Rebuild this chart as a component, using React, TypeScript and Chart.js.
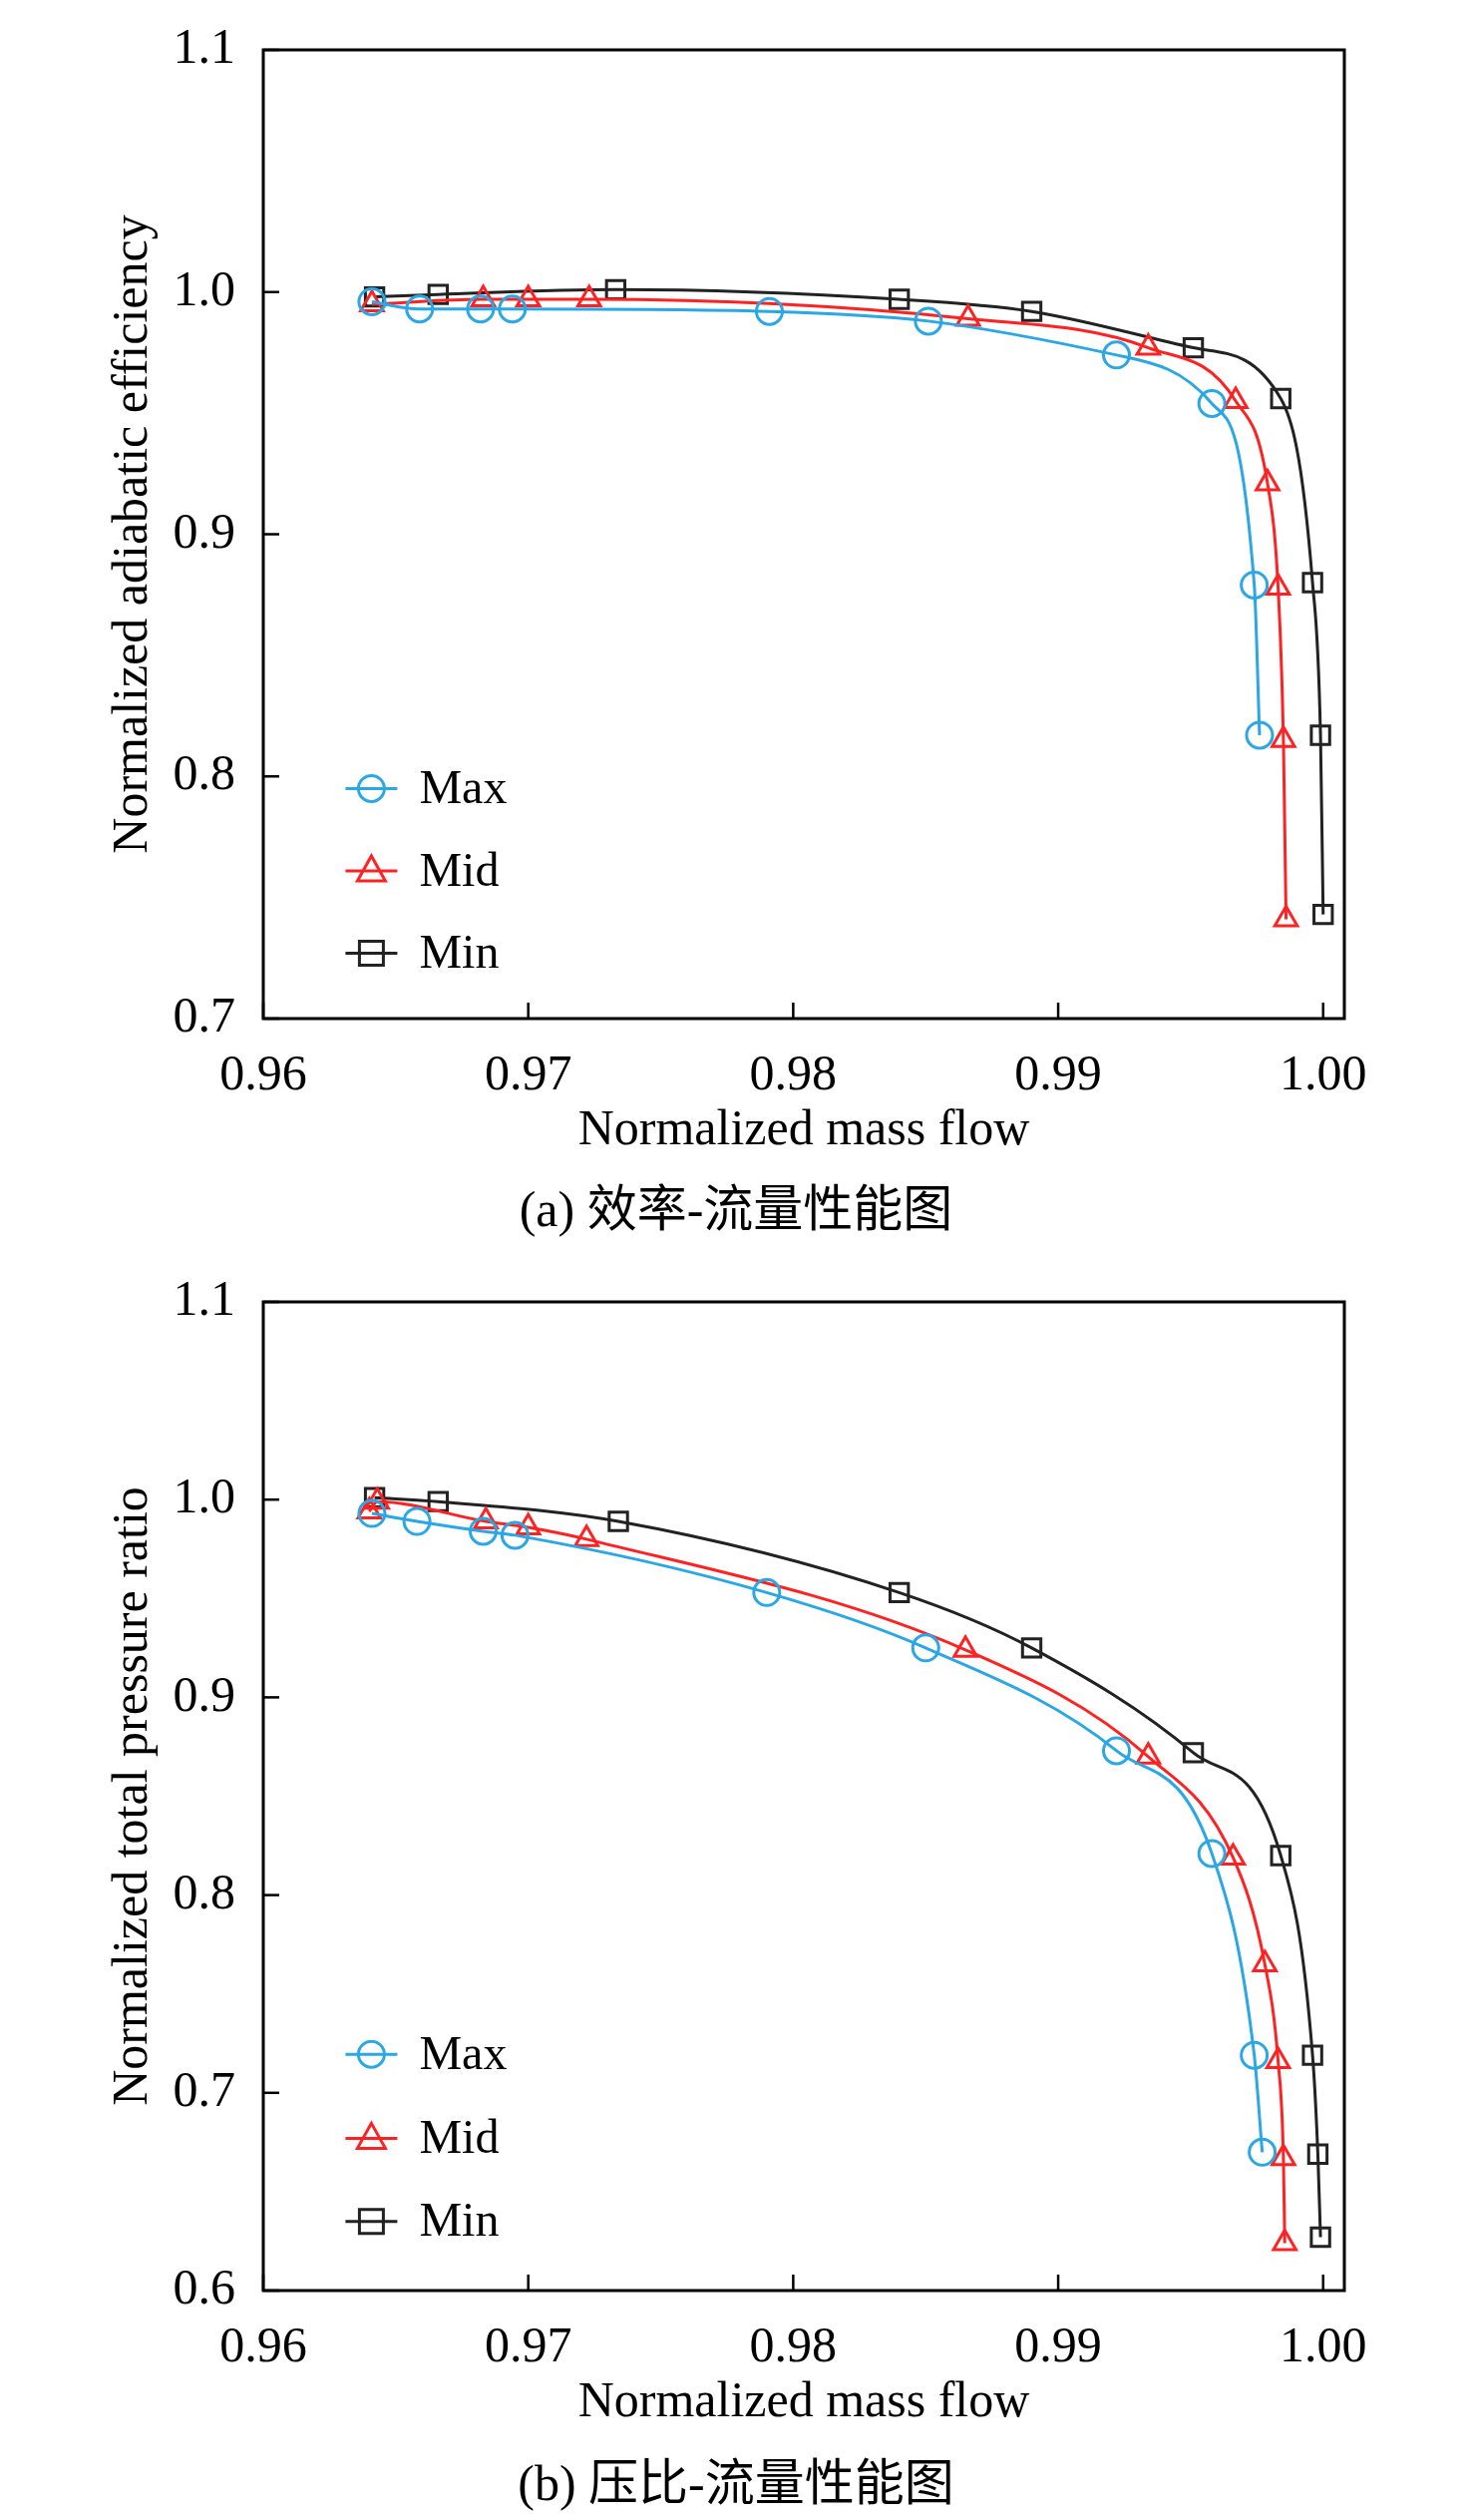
import React, { useEffect, useRef } from "react";
import { Chart, registerables } from "chart.js";
Chart.register(...registerables);

const seriesNames = ["Max", "Mid", "Min"];
const colors = ["#2aa7e4", "#ff2222", "#222222"];
const markers = ["circle", "triangle", "rect"];

const effMaxX = [0.9641, 0.9659, 0.9682, 0.9694, 0.9791, 0.9851, 0.9922, 0.9958, 0.9974, 0.9976];
const effMaxY = [0.996, 0.993, 0.993, 0.993, 0.992, 0.988, 0.974, 0.954, 0.879, 0.817];
const effMidX = [0.9641, 0.9683, 0.97, 0.9723, 0.9866, 0.9934, 0.9967, 0.9979, 0.9983, 0.9985, 0.9986];
const effMidY = [0.995, 0.997, 0.997, 0.997, 0.989, 0.977, 0.955, 0.921, 0.878, 0.815, 0.741];
const effMinX = [0.9642, 0.9666, 0.9733, 0.984, 0.989, 0.9951, 0.9984, 0.9996, 0.9999, 1.0];
const effMinY = [0.998, 0.999, 1.001, 0.997, 0.992, 0.977, 0.956, 0.88, 0.817, 0.743];

const prMaxX = [0.9641, 0.9658, 0.9683, 0.9695, 0.979, 0.985, 0.9922, 0.9958, 0.9974, 0.9977];
const prMaxY = [0.993, 0.989, 0.984, 0.982, 0.953, 0.925, 0.873, 0.821, 0.719, 0.67];
const prMidX = [0.964, 0.9643, 0.9684, 0.97, 0.9722, 0.9865, 0.9934, 0.9966, 0.9978, 0.9983, 0.9985, 0.99855];
const prMidY = [0.994, 0.999, 0.989, 0.986, 0.98, 0.924, 0.87, 0.819, 0.765, 0.716, 0.667, 0.624];
const prMinX = [0.9642, 0.9666, 0.9734, 0.984, 0.989, 0.9951, 0.9984, 0.9996, 0.9998, 0.9999];
const prMinY = [1.001, 0.999, 0.989, 0.953, 0.925, 0.872, 0.82, 0.719, 0.669, 0.627];

const xTicks = [0.96, 0.97, 0.98, 0.99, 1.0];
const effYTicks = [0.7, 0.8, 0.9, 1.0, 1.1];
const prYTicks = [0.6, 0.7, 0.8, 0.9, 1.0, 1.1];

const FONT = "'Liberation Serif', Tinos, 'DejaVu Serif', serif";

function pts(xs: number[], ys: number[]) {
  return xs.map((x, i) => ({ x, y: ys[i] }));
}

function makeChart(canvas: HTMLCanvasElement, sets: { x: number[]; y: number[] }[], yTicks: number[], yTitle: string, padTop: number, legendY: number[]) {
  const framePlugin = {
    id: "frame",
    afterDraw(chart: any) {
      const { ctx, chartArea: a, scales } = chart;
      ctx.save();
      ctx.strokeStyle = "#000";
      ctx.lineWidth = 3;
      ctx.strokeRect(a.left, a.top, a.right - a.left, a.bottom - a.top);
      ctx.lineWidth = 2.5;
      for (const v of xTicks) {
        const px = scales.x.getPixelForValue(v);
        ctx.beginPath(); ctx.moveTo(px, a.bottom); ctx.lineTo(px, a.bottom - 16); ctx.stroke();
      }
      for (const v of yTicks) {
        const py = scales.y.getPixelForValue(v);
        ctx.beginPath(); ctx.moveTo(a.left, py); ctx.lineTo(a.left + 16, py); ctx.stroke();
      }
      const mx = a.left + 0.1 * (a.right - a.left);
      seriesNames.forEach((n, i) => {
        const py = scales.y.getPixelForValue(legendY[i]);
        ctx.strokeStyle = colors[i];
        ctx.lineWidth = 3;
        ctx.beginPath(); ctx.moveTo(mx - 26, py); ctx.lineTo(mx + 26, py); ctx.stroke();
        ctx.beginPath();
        if (i === 0) ctx.arc(mx, py, 13, 0, Math.PI * 2);
        else if (i === 1) { ctx.moveTo(mx, py - 15); ctx.lineTo(mx + 14, py + 10); ctx.lineTo(mx - 14, py + 10); ctx.closePath(); }
        else ctx.rect(mx - 12, py - 12, 24, 24);
        ctx.stroke();
        ctx.fillStyle = "#000";
        ctx.font = `48px ${FONT}`;
        ctx.textBaseline = "middle";
        ctx.textAlign = "left";
        ctx.fillText(n, mx + 48, py + 2);
      });
      ctx.restore();
    },
  };
  return new Chart(canvas, {
    type: "line",
    data: {
      datasets: sets.map((s, i) => ({
        label: seriesNames[i],
        data: pts(s.x, s.y),
        borderColor: colors[i],
        backgroundColor: "rgba(255,255,255,0)",
        pointBackgroundColor: "rgba(255,255,255,0)",
        pointBorderColor: colors[i],
        pointStyle: markers[i] as any,
        pointRadius: 13,
        pointBorderWidth: 3,
        borderWidth: 3,
        cubicInterpolationMode: "monotone" as any,
        fill: false,
      })),
    },
    options: {
      animation: false,
      responsive: false,
      layout: { padding: { top: padTop, right: 128, left: 0, bottom: 0 } },
      plugins: { legend: { display: false }, tooltip: { enabled: false } },
      scales: {
        x: {
          type: "linear",
          min: 0.96,
          max: 1.0008,
          afterBuildTicks: (s: any) => { s.ticks = xTicks.map((v) => ({ value: v })); },
          afterFit: (s: any) => { s.height = 159; },
          grid: { display: false },
          border: { display: false },
          ticks: { color: "#000", padding: 20, maxRotation: 0, font: { family: FONT, size: 50 }, callback: (v: any) => Number(v).toFixed(2) },
          title: { display: true, text: "Normalized mass flow", color: "#000", font: { family: FONT, size: 50 }, padding: { top: 0, bottom: 16 } },
        },
        y: {
          type: "linear",
          min: yTicks[0],
          max: 1.1,
          afterBuildTicks: (s: any) => { s.ticks = yTicks.map((v) => ({ value: v })); },
          afterFit: (s: any) => { s.width = 264; },
          grid: { display: false },
          border: { display: false },
          ticks: { color: "#000", padding: 20, font: { family: FONT, size: 50 }, callback: (v: any) => Number(v).toFixed(1) },
          title: { display: true, text: yTitle, color: "#000", font: { family: FONT, size: 50 }, padding: { top: 104, bottom: 0 } },
        },
      },
    },
    plugins: [framePlugin],
  });
}

export default function App() {
  const c1 = useRef<HTMLCanvasElement>(null);
  const c2 = useRef<HTMLCanvasElement>(null);
  useEffect(() => {
    document.body.style.margin = "0";
    const a = makeChart(c1.current!, [{ x: effMaxX, y: effMaxY }, { x: effMidX, y: effMidY }, { x: effMinX, y: effMinY }], effYTicks, "Normalized adiabatic efficiency", 9, [0.795, 0.761, 0.727]);
    const b = makeChart(c2.current!, [{ x: prMaxX, y: prMaxY }, { x: prMidX, y: prMidY }, { x: prMinX, y: prMinY }], prYTicks, "Normalized total pressure ratio", 59, [0.7195, 0.677, 0.635]);
    return () => { a.destroy(); b.destroy(); };
  }, []);
  const cap: React.CSSProperties = { width: 1476, height: 68, lineHeight: "68px", textAlign: "center", fontSize: 50, fontFamily: "'Liberation Serif', Tinos, 'Noto Sans CJK SC', serif", color: "#000" };
  return (
    <div style={{ width: 1476, background: "#fff" }}>
      <canvas ref={c1} width={1476} height={1180} style={{ display: "block" }} />
      <div style={{ ...cap, marginTop: -2 }}>(a) 效率-流量性能图</div>
      <canvas ref={c2} width={1476} height={1209} style={{ display: "block" }} />
      <div style={cap}>(b) 压比-流量性能图</div>
    </div>
  );
}
